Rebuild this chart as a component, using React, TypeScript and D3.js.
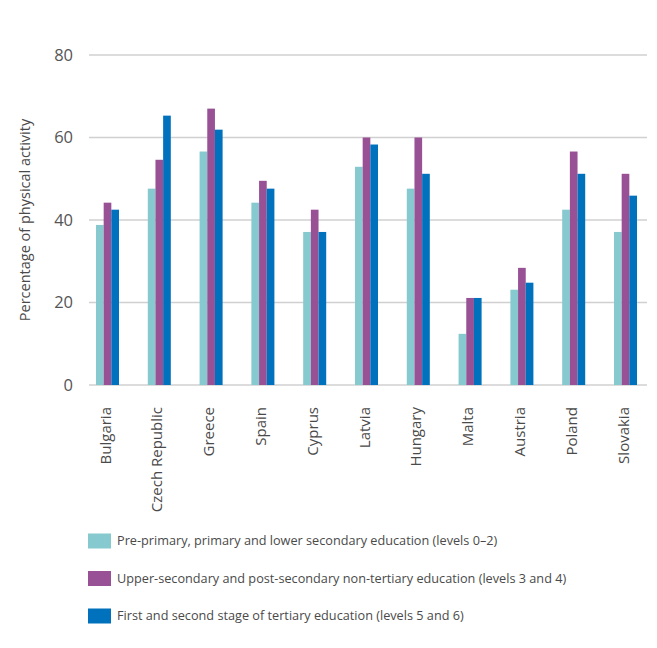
import React from "react";
import * as d3 from "d3";

const countries = ["Bulgaria", "Czech Republic", "Greece", "Spain", "Cyprus", "Latvia", "Hungary", "Malta", "Austria", "Poland", "Slovakia"];
const level02 = [38.8, 47.6, 56.6, 44.2, 37.1, 52.9, 47.6, 12.4, 23.1, 42.5, 37.1];
const level34 = [44.2, 54.6, 67.0, 49.5, 42.5, 60.0, 60.0, 21.1, 28.4, 56.6, 51.2];
const level56 = [42.5, 65.3, 61.9, 47.6, 37.1, 58.3, 51.2, 21.1, 24.8, 51.2, 45.9];
const seriesNames = [
  "Pre-primary, primary and lower secondary education (levels 0–2)",
  "Upper-secondary and post-secondary non-tertiary education (levels 3 and 4)",
  "First and second stage of tertiary education (levels 5 and 6)",
];
const yTicks = [0, 20, 40, 60, 80];
const colors = ["#86C9CE", "#985195", "#0071BC"];

export default function App() {
  const W = 657, H = 648;
  const series = [level02, level34, level56];
  const y = d3.scaleLinear().domain([0, 80]).range([385, 55]);
  const x = d3.scaleBand<string>().domain(countries).range([81.6, 651.4]).padding(0);
  const groupW = 23;
  const inner = d3.scaleBand<number>().domain([0, 1, 2]).range([0, groupW]).padding(0);
  const font = "'Open Sans', sans-serif";
  const textColor = "#4a4a4a";
  return (
    <svg width={W} height={H} style={{ position: "absolute", left: 0, top: 0 }} fontFamily={font}>
      {yTicks.map((t) => (
        <g key={t}>
          <line x1={89} x2={647} y1={y(t)} y2={y(t)} stroke="#d0d0d0" strokeWidth={1.5} />
          <text x={73} y={y(t)} dy="0.35em" textAnchor="end" fontSize={16.5} fill="#555">{t}</text>
        </g>
      ))}
      <text transform={`translate(30,220) rotate(-90)`} textAnchor="middle" fontSize={14.5} fill={textColor}>Percentage of physical activity</text>
      {countries.map((c, i) => (
        <g key={c} transform={`translate(${(x(c) as number) + x.bandwidth() / 2 - groupW / 2},0)`}>
          {series.map((s, j) => (
            <rect key={j} x={inner(j) as number} width={inner.bandwidth()} y={y(s[i])} height={y(0) - y(s[i])} fill={colors[j]} />
          ))}
        </g>
      ))}
      {countries.map((c) => (
        <text key={c} transform={`translate(${(x(c) as number) + x.bandwidth() / 2 + 3},407) rotate(-90)`} textAnchor="end" fontSize={15} fill={textColor}>{c}</text>
      ))}
      {seriesNames.map((n, j) => (
        <g key={n} transform={`translate(88,${541 + j * 37.5})`}>
          <rect x={0} y={-7.5} width={23} height={15} fill={colors[j]} />
          <text x={29} y={0} dy="0.35em" fontSize={12.7} fill={textColor}>{n}</text>
        </g>
      ))}
    </svg>
  );
}
